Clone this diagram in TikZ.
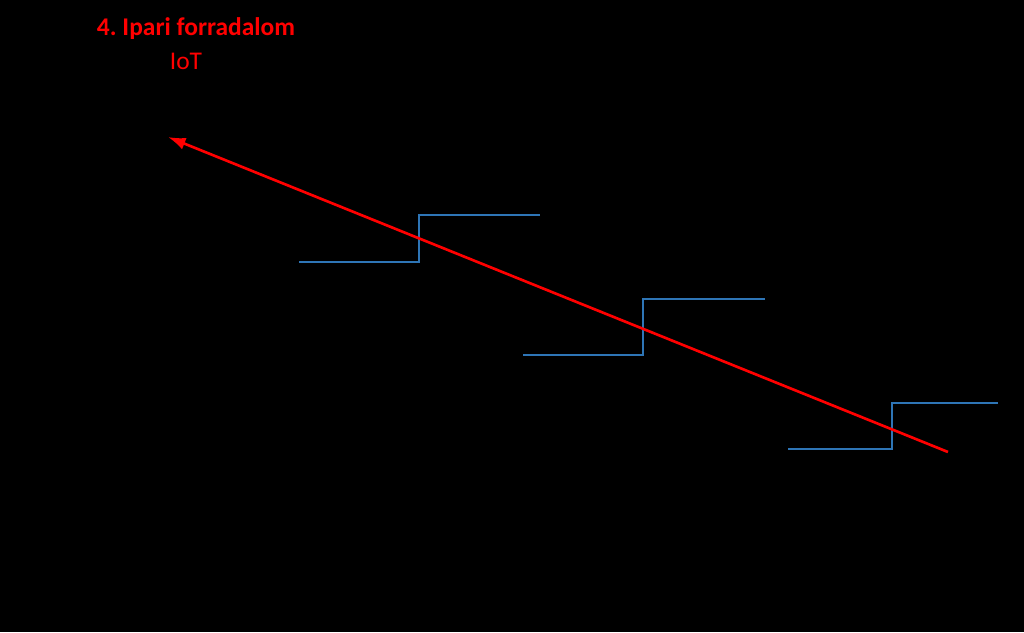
\documentclass[tikz,border=0pt]{standalone}
\usepackage{fontspec}
\setmainfont{Carlito}
\usepackage{xcolor}
\usepackage{tikz}
\usetikzlibrary{arrows.meta}

\definecolor{stepblue}{RGB}{46,117,182}

\begin{document}
\begin{tikzpicture}[x=0.02cm, y=-0.02cm]
    % background
    \fill[black] (0,0) rectangle (1024,632);
    \useasboundingbox (0,0) rectangle (1024,632);

    % Labels
    \node[red, font=\bfseries\fontsize{14.5}{17}\selectfont] (title) at (196,29) {4.\ Ipari forradalom};
    \node[red, font=\fontsize{14.5}{17}\selectfont] (iot) at (186,61) {IoT};

    % Steps
    \draw[stepblue, line width=1.1pt] (299,262) -- (419,262) -- (419,215) -- (540,215);
    \draw[stepblue, line width=1.1pt] (523,355) -- (643,355) -- (643,299) -- (765,299);
    \draw[stepblue, line width=1.1pt] (788,449) -- (892,449) -- (892,403) -- (998,403);

    % Trend arrow
    \coordinate (trendstart) at (948,452);
    \coordinate (trendend) at (168,137);
    \draw[red, line width=1.5pt, -{Latex[length=10pt,width=7pt]}] (trendstart) -- (trendend);
\end{tikzpicture}
\end{document}
